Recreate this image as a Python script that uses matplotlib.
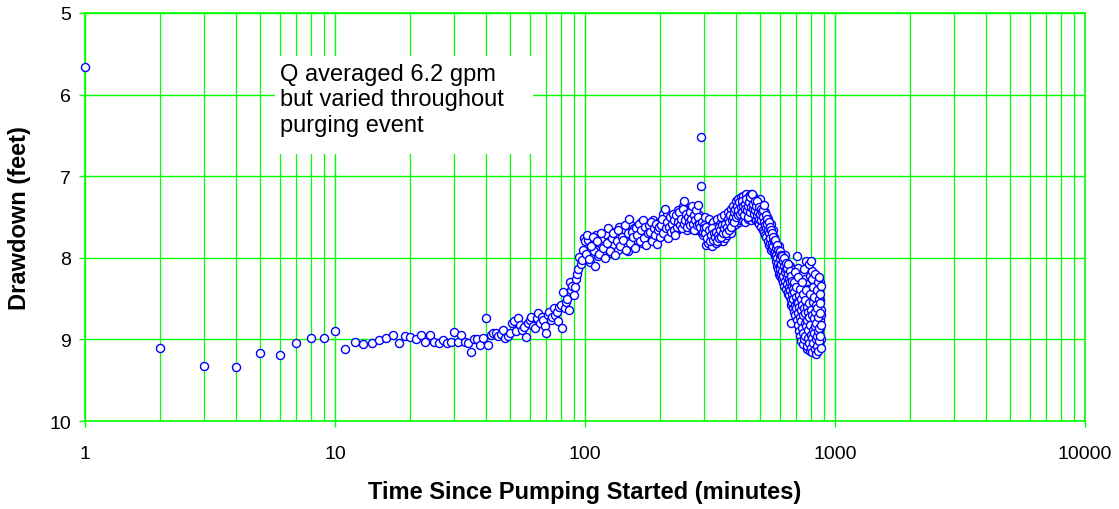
import matplotlib
matplotlib.use('Agg')
import matplotlib.pyplot as plt
from matplotlib.patches import Rectangle
import numpy as np

plt.rcParams['font.family'] = ['Liberation Sans', 'DejaVu Sans']

# ---- drawdown readings (feet) ----
# minutes 1..100, one reading per minute
dd_1_100 = [
    5.66, 9.10, 9.32, 9.34, 9.17, 9.19, 9.04, 8.98, 8.98, 8.90,
    9.12, 9.03, 9.06, 9.04, 9.01, 8.98, 8.94, 9.04, 8.96, 8.97,
    9.00, 8.95, 9.03, 8.94, 9.03, 9.04, 9.01, 9.04, 9.03, 8.91,
    9.03, 8.95, 9.03, 9.05, 9.15, 9.00, 9.00, 9.07, 8.98, 8.74,
    9.07, 8.94, 8.92, 8.92, 8.96, 8.93, 8.88, 8.98, 8.96, 8.92,
    8.80, 8.77, 8.90, 8.74, 8.82, 8.88, 8.85, 8.97, 8.80, 8.76,
    8.72, 8.84, 8.86, 8.74, 8.68, 8.80, 8.72, 8.76, 8.84, 8.92,
    8.70, 8.66, 8.76, 8.72, 8.62, 8.70, 8.66, 8.78, 8.60, 8.58,
    8.86, 8.42, 8.62, 8.54, 8.50, 8.64, 8.30, 8.40, 8.34, 8.46,
    8.36, 8.26, 8.20, 8.14, 7.99, 8.08, 8.03, 7.90, 7.76, 7.80,
]
# minutes 101..299, odd minutes
dd_101_299 = [
    7.95, 7.78, 8.05, 7.84, 7.92, 7.72, 7.98, 7.82, 7.76, 7.90,
    7.86, 7.72, 7.80, 7.94, 7.68, 7.84, 7.74, 7.90, 7.62, 7.78,
    7.70, 7.84, 7.66, 7.76, 7.92, 7.58, 7.72, 7.80, 7.64, 7.70,
    7.78, 7.66, 7.74, 7.56, 7.82, 7.70, 7.64, 7.76, 7.58, 7.72,
    7.62, 7.76, 7.70, 7.54, 7.66, 7.78, 7.60, 7.70, 7.56, 7.68,
    7.66, 7.58, 7.46, 7.72, 7.54, 7.62, 7.48, 7.70, 7.58, 7.52,
    7.64, 7.52, 7.60, 7.70, 7.50, 7.56, 7.66, 7.42, 7.58, 7.64,
    7.48, 7.58, 7.54, 7.36, 7.62, 7.50, 7.58, 7.44, 7.66, 7.52,
    7.56, 7.48, 7.64, 7.54, 7.40, 7.62, 7.50, 7.58, 7.46, 7.66,
    7.56, 7.62, 7.48, 7.66, 7.58, 7.64, 7.70, 7.60, 7.72, 7.66,
]
# minutes 102..300, even minutes
dd_102_300 = [
    7.72, 8.02, 7.86, 7.74, 8.10, 7.80, 7.95, 7.70, 7.88, 8.00,
    7.82, 7.64, 7.92, 7.76, 7.70, 7.96, 7.80, 7.66, 7.86, 7.74,
    7.78, 7.60, 7.90, 7.70, 7.52, 7.82, 7.68, 7.74, 7.88, 7.64,
    7.72, 7.58, 7.80, 7.66, 7.54, 7.76, 7.62, 7.84, 7.70, 7.60,
    7.68, 7.56, 7.80, 7.64, 7.72, 7.58, 7.83, 7.66, 7.62, 7.74,
    7.60, 7.52, 7.70, 7.40, 7.64, 7.56, 7.76, 7.62, 7.50, 7.68,
    7.58, 7.46, 7.66, 7.54, 7.72, 7.48, 7.62, 7.56, 7.44, 7.60,
    7.52, 7.64, 7.40, 7.58, 7.30, 7.54, 7.46, 7.62, 7.50, 7.56,
    7.44, 7.60, 7.52, 7.36, 7.58, 7.48, 7.66, 7.54, 7.42, 7.60,
    7.50, 7.35, 7.58, 7.62, 6.52, 7.12, 7.56, 7.68, 7.60, 7.64,
]
# minutes 301..598, every 3 minutes
dd_301_598 = [
    7.50, 7.84, 7.66, 7.82, 7.52, 7.74, 7.60, 7.86, 7.56, 7.70,
    7.62, 7.82, 7.52, 7.68, 7.80, 7.58, 7.50, 7.78, 7.66, 7.80,
    7.48, 7.76, 7.60, 7.72, 7.44, 7.66, 7.52, 7.70, 7.40, 7.62,
    7.36, 7.60, 7.46, 7.58, 7.30, 7.50, 7.28, 7.56, 7.40, 7.54,
    7.26, 7.48, 7.24, 7.54, 7.36, 7.56, 7.22, 7.44, 7.28, 7.52,
    7.24, 7.50, 7.38, 7.22, 7.54, 7.30, 7.24, 7.48, 7.28, 7.52,
    7.30, 7.54, 7.40, 7.56, 7.34, 7.58, 7.28, 7.50, 7.35, 7.62,
    7.38, 7.66, 7.48, 7.68, 7.44, 7.72, 7.56, 7.74, 7.50, 7.80,
    7.52, 7.84, 7.66, 7.82, 7.58, 7.90, 7.70, 7.88, 7.66, 7.94,
    7.74, 7.98, 7.80, 8.04, 7.84, 8.10, 7.92, 8.14, 7.86, 8.20,
]
# minutes 303..600, every 3 minutes
dd_303_600 = [
    7.70, 7.62, 7.76, 7.66, 7.80, 7.72, 7.64, 7.78, 7.70, 7.74,
    7.68, 7.80, 7.72, 7.62, 7.76, 7.66, 7.74, 7.60, 7.70, 7.64,
    7.58, 7.70, 7.62, 7.52, 7.66, 7.56, 7.48, 7.62, 7.54, 7.50,
    7.44, 7.56, 7.40, 7.50, 7.36, 7.48, 7.42, 7.32, 7.46, 7.38,
    7.30, 7.44, 7.36, 7.48, 7.34, 7.40, 7.28, 7.42, 7.36, 7.50,
    7.32, 7.44, 7.26, 7.38, 7.22, 7.40, 7.34, 7.46, 7.30, 7.42,
    7.36, 7.48, 7.30, 7.44, 7.52, 7.38, 7.46, 7.40, 7.54, 7.44,
    7.50, 7.42, 7.56, 7.35, 7.60, 7.48, 7.64, 7.52, 7.58, 7.66,
    7.56, 7.70, 7.62, 7.76, 7.66, 7.82, 7.70, 7.86, 7.74, 7.80,
    7.92, 7.78, 7.88, 7.96, 7.84, 8.00, 7.90, 8.06, 7.94, 8.10,
]
# minutes 601..879, odd minutes
dd_601_879 = [
    8.10, 7.92, 8.22, 8.04, 7.98, 8.18, 8.12, 8.24, 8.06, 8.16,
    8.30, 8.02, 8.16, 8.26, 8.12, 7.96, 8.34, 8.20, 8.08, 8.28,
    8.18, 8.40, 8.06, 8.24, 8.44, 8.14, 8.32, 8.22, 8.38, 8.10,
    8.26, 8.48, 8.36, 8.14, 8.58, 8.30, 8.46, 8.20, 8.54, 8.34,
    8.42, 8.62, 8.24, 8.52, 8.38, 8.68, 8.46, 8.28, 8.56, 8.44,
    8.64, 8.34, 8.80, 8.50, 8.70, 8.12, 8.58, 8.84, 8.42, 8.66,
    8.48, 8.88, 8.60, 8.28, 8.76, 8.54, 8.94, 8.68, 8.40, 8.82,
    8.58, 8.98, 8.36, 8.74, 8.86, 8.50, 9.04, 8.64, 8.26, 8.90,
    8.54, 8.78, 9.02, 8.32, 8.70, 8.94, 8.46, 9.10, 8.62, 8.86,
    8.76, 8.38, 9.00, 8.60, 8.90, 8.22, 9.08, 8.68, 8.48, 8.98,
    8.62, 8.92, 8.44, 9.06, 8.80, 8.16, 8.70, 9.12, 8.52, 8.86,
    8.96, 8.60, 8.34, 9.08, 8.78, 8.50, 9.14, 8.70, 8.42, 8.90,
    8.64, 9.02, 8.28, 8.84, 8.56, 9.12, 8.72, 8.46, 8.98, 8.60,
    8.92, 8.38, 9.06, 8.76, 8.52, 8.86, 8.30, 8.70, 9.00, 8.64,
]
# minutes 602..880, even minutes
dd_602_880 = [
    8.02, 8.14, 7.96, 8.20, 8.08, 8.26, 7.98, 8.16, 8.30, 8.04,
    8.22, 8.10, 8.34, 8.00, 8.18, 8.28, 8.06, 8.38, 8.14, 8.24,
    8.12, 8.32, 8.20, 8.42, 8.08, 8.36, 8.26, 8.46, 8.16, 8.30,
    8.40, 8.22, 8.52, 8.80, 8.34, 8.56, 8.28, 8.44, 8.62, 8.38,
    8.50, 8.30, 8.66, 8.42, 8.58, 8.18, 8.70, 8.48, 8.36, 8.62,
    8.54, 8.76, 7.98, 8.68, 8.24, 8.82, 8.56, 8.46, 8.90, 8.60,
    8.72, 8.38, 8.96, 8.64, 8.50, 9.02, 8.78, 8.30, 8.86, 8.58,
    9.06, 8.70, 8.44, 8.92, 8.62, 9.00, 8.14, 8.80, 8.52, 8.96,
    8.68, 8.04, 8.40, 8.84, 8.60, 9.12, 8.76, 9.08, 8.98, 8.66,
    8.88, 8.08, 9.04, 8.72, 8.56, 9.14, 8.82, 8.44, 8.94, 8.64,
    9.10, 8.04, 8.26, 8.98, 8.70, 9.16, 8.54, 8.88, 8.36, 9.04,
    8.74, 8.92, 8.48, 9.12, 8.66, 8.84, 8.20, 9.00, 8.58, 9.18,
    8.80, 8.40, 8.96, 8.62, 9.08, 8.30, 8.90, 8.72, 9.14, 8.50,
    8.86, 8.24, 9.02, 8.68, 8.44, 8.96, 8.56, 9.10, 8.34, 8.82,
]

minutes = np.concatenate([
    1 + np.arange(len(dd_1_100)),
    101 + 2 * np.arange(len(dd_101_299)),
    102 + 2 * np.arange(len(dd_102_300)),
    301 + 3 * np.arange(len(dd_301_598)),
    303 + 3 * np.arange(len(dd_303_600)),
    601 + 2 * np.arange(len(dd_601_879)),
    602 + 2 * np.arange(len(dd_602_880)),
])
drawdown = np.concatenate([dd_1_100, dd_101_299, dd_102_300, dd_301_598,
                           dd_303_600, dd_601_879, dd_602_880])

x_ticks = [1, 10, 100, 1000, 10000]
x_labels = ['1', '10', '100', '1000', '10000']
y_ticks = [5, 6, 7, 8, 9, 10]

green = '#00FF00'

fig = plt.figure(figsize=(11.19, 5.10), dpi=100, facecolor='white')
ax = fig.add_axes([85 / 1119, 1 - 422 / 510, 1000 / 1119, 408 / 510])

ax.set_xscale('log')
ax.set_xlim(1, 10000)
ax.set_ylim(10, 5)

# ---- grid ----
ax.set_xticks(x_ticks)
ax.set_xticklabels(x_labels)
ax.set_xticks([m * 10 ** e for e in range(4) for m in range(2, 10)], minor=True)
ax.xaxis.set_minor_formatter(matplotlib.ticker.NullFormatter())
ax.set_yticks(y_ticks)
ax.grid(True, which='major', axis='both', color=green, linewidth=1.0)
ax.grid(True, which='minor', axis='x', color=green, linewidth=0.9)
ax.set_axisbelow(True)

for sp in ax.spines.values():
    sp.set_color(green)
    sp.set_linewidth(1.2)

ax.tick_params(axis='x', which='major', colors=green, length=4, width=1,
               labelcolor='black', labelsize=14, pad=13)
ax.tick_params(axis='x', which='minor', length=0)
ax.tick_params(axis='y', colors=green, length=4, width=1,
               labelcolor='black', labelsize=14, pad=6)

# ---- text box ----
ax.add_patch(Rectangle((0.19, 0.6544), 0.258, 0.2402, transform=ax.transAxes,
                       facecolor='white', edgecolor='none', zorder=2))
ax.text(0.195, 0.878, 'Q averaged 6.2 gpm\nbut varied throughout\npurging event',
        transform=ax.transAxes, fontsize=17, va='top', ha='left',
        linespacing=1.2, zorder=3)

# ---- data ----
ax.plot(minutes, drawdown, linestyle='none', marker='o', markersize=5.8,
        markerfacecolor='white', markeredgecolor='#0000FF',
        markeredgewidth=1.0, zorder=4, clip_on=False)

ax.set_xlabel('Time Since Pumping Started (minutes)', fontsize=17,
              fontweight='bold', va='center')
ax.xaxis.set_label_coords(0.5, -0.172)
ax.set_ylabel('Drawdown (feet)', fontsize=17, fontweight='bold', va='center')
ax.yaxis.set_label_coords(-0.065, 0.5)

fig.savefig('out.png', dpi=100, facecolor='white')
